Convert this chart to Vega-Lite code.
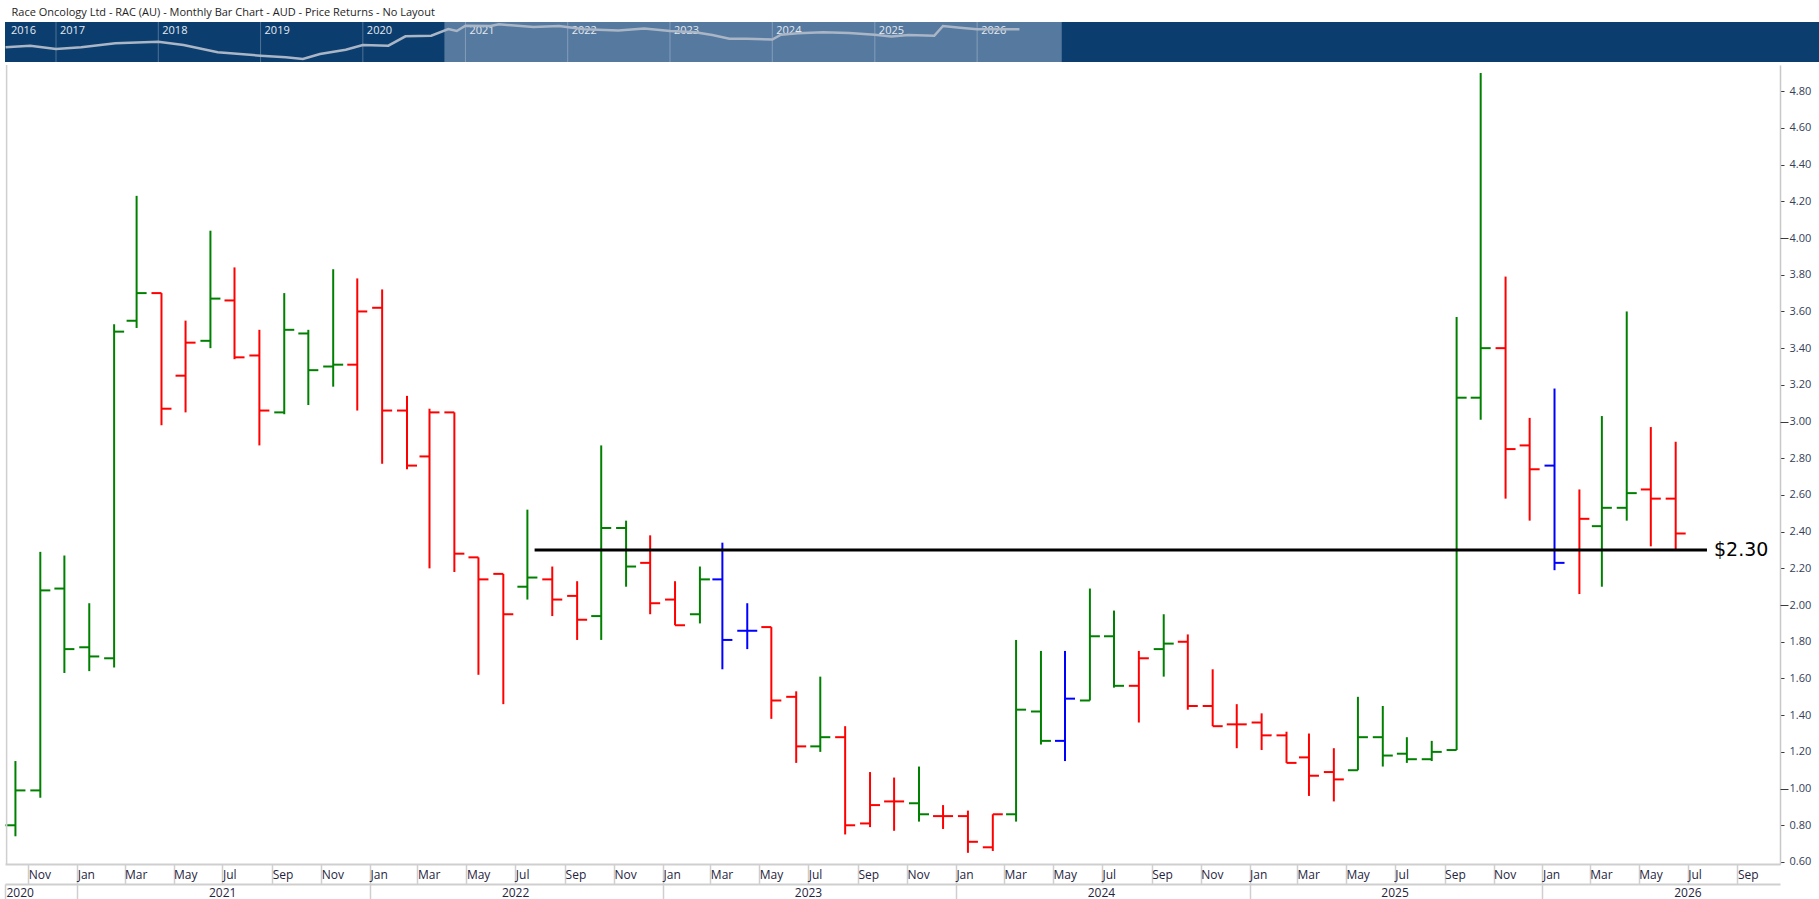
{
  "$schema": "https://vega.github.io/schema/vega-lite/v6.json",
  "padding": 0,
  "background": "#ffffff",
  "spacing": 0,
  "title": {
    "text": [" ", "Race Oncology Ltd - RAC (AU) - Monthly Bar Chart - AUD - Price Returns - No Layout"],
    "anchor": "start",
    "frame": "bounds",
    "font": "Open Sans",
    "fontSize": 11,
    "lineHeight": 7,
    "fontWeight": "normal",
    "color": "#1e1e1e",
    "offset": 1,
    "dx": 11
  },
  "config": {"view": {"stroke": null}, "font": "Open Sans"},
  "datasets": {
    "ohlc": [
      {"date": "2020-10-16", "open": 0.80, "high": 1.15, "low": 0.74, "close": 0.99, "signal": "up"},
      {"date": "2020-11-16", "open": 0.99, "high": 2.29, "low": 0.95, "close": 2.08, "signal": "up"},
      {"date": "2020-12-16", "open": 2.09, "high": 2.27, "low": 1.63, "close": 1.76, "signal": "up"},
      {"date": "2021-01-16", "open": 1.77, "high": 2.01, "low": 1.64, "close": 1.72, "signal": "up"},
      {"date": "2021-02-16", "open": 1.71, "high": 3.53, "low": 1.66, "close": 3.49, "signal": "up"},
      {"date": "2021-03-16", "open": 3.55, "high": 4.23, "low": 3.51, "close": 3.70, "signal": "up"},
      {"date": "2021-04-16", "open": 3.70, "high": 3.70, "low": 2.98, "close": 3.07, "signal": "down"},
      {"date": "2021-05-16", "open": 3.25, "high": 3.55, "low": 3.05, "close": 3.43, "signal": "down"},
      {"date": "2021-06-16", "open": 3.44, "high": 4.04, "low": 3.40, "close": 3.67, "signal": "up"},
      {"date": "2021-07-16", "open": 3.66, "high": 3.84, "low": 3.34, "close": 3.35, "signal": "down"},
      {"date": "2021-08-16", "open": 3.36, "high": 3.50, "low": 2.87, "close": 3.06, "signal": "down"},
      {"date": "2021-09-16", "open": 3.05, "high": 3.70, "low": 3.04, "close": 3.50, "signal": "up"},
      {"date": "2021-10-16", "open": 3.48, "high": 3.50, "low": 3.09, "close": 3.28, "signal": "up"},
      {"date": "2021-11-16", "open": 3.30, "high": 3.83, "low": 3.19, "close": 3.31, "signal": "up"},
      {"date": "2021-12-16", "open": 3.31, "high": 3.78, "low": 3.06, "close": 3.60, "signal": "down"},
      {"date": "2022-01-16", "open": 3.62, "high": 3.72, "low": 2.77, "close": 3.06, "signal": "down"},
      {"date": "2022-02-16", "open": 3.06, "high": 3.14, "low": 2.74, "close": 2.76, "signal": "down"},
      {"date": "2022-03-16", "open": 2.81, "high": 3.07, "low": 2.20, "close": 3.05, "signal": "down"},
      {"date": "2022-04-16", "open": 3.05, "high": 3.05, "low": 2.18, "close": 2.28, "signal": "down"},
      {"date": "2022-05-16", "open": 2.26, "high": 2.26, "low": 1.62, "close": 2.14, "signal": "down"},
      {"date": "2022-06-16", "open": 2.17, "high": 2.17, "low": 1.46, "close": 1.95, "signal": "down"},
      {"date": "2022-07-16", "open": 2.10, "high": 2.52, "low": 2.03, "close": 2.15, "signal": "up"},
      {"date": "2022-08-16", "open": 2.14, "high": 2.21, "low": 1.94, "close": 2.03, "signal": "down"},
      {"date": "2022-09-16", "open": 2.05, "high": 2.13, "low": 1.81, "close": 1.92, "signal": "down"},
      {"date": "2022-10-16", "open": 1.94, "high": 2.87, "low": 1.81, "close": 2.42, "signal": "up"},
      {"date": "2022-11-16", "open": 2.42, "high": 2.46, "low": 2.10, "close": 2.21, "signal": "up"},
      {"date": "2022-12-16", "open": 2.23, "high": 2.38, "low": 1.95, "close": 2.01, "signal": "down"},
      {"date": "2023-01-16", "open": 2.03, "high": 2.13, "low": 1.89, "close": 1.89, "signal": "down"},
      {"date": "2023-02-16", "open": 1.95, "high": 2.21, "low": 1.90, "close": 2.14, "signal": "up"},
      {"date": "2023-03-16", "open": 2.14, "high": 2.34, "low": 1.65, "close": 1.81, "signal": "neutral"},
      {"date": "2023-04-16", "open": 1.86, "high": 2.01, "low": 1.76, "close": 1.86, "signal": "neutral"},
      {"date": "2023-05-16", "open": 1.88, "high": 1.88, "low": 1.38, "close": 1.48, "signal": "down"},
      {"date": "2023-06-16", "open": 1.50, "high": 1.53, "low": 1.14, "close": 1.23, "signal": "down"},
      {"date": "2023-07-16", "open": 1.23, "high": 1.61, "low": 1.20, "close": 1.28, "signal": "up"},
      {"date": "2023-08-16", "open": 1.28, "high": 1.34, "low": 0.75, "close": 0.80, "signal": "down"},
      {"date": "2023-09-16", "open": 0.81, "high": 1.09, "low": 0.79, "close": 0.91, "signal": "down"},
      {"date": "2023-10-16", "open": 0.93, "high": 1.06, "low": 0.77, "close": 0.93, "signal": "down"},
      {"date": "2023-11-16", "open": 0.92, "high": 1.12, "low": 0.82, "close": 0.86, "signal": "up"},
      {"date": "2023-12-16", "open": 0.85, "high": 0.91, "low": 0.78, "close": 0.85, "signal": "down"},
      {"date": "2024-01-16", "open": 0.85, "high": 0.88, "low": 0.65, "close": 0.71, "signal": "down"},
      {"date": "2024-02-16", "open": 0.68, "high": 0.86, "low": 0.66, "close": 0.86, "signal": "down"},
      {"date": "2024-03-16", "open": 0.86, "high": 1.81, "low": 0.82, "close": 1.43, "signal": "up"},
      {"date": "2024-04-16", "open": 1.42, "high": 1.75, "low": 1.24, "close": 1.26, "signal": "up"},
      {"date": "2024-05-16", "open": 1.26, "high": 1.75, "low": 1.15, "close": 1.49, "signal": "neutral"},
      {"date": "2024-06-16", "open": 1.48, "high": 2.09, "low": 1.48, "close": 1.83, "signal": "up"},
      {"date": "2024-07-16", "open": 1.83, "high": 1.97, "low": 1.55, "close": 1.56, "signal": "up"},
      {"date": "2024-08-16", "open": 1.56, "high": 1.75, "low": 1.36, "close": 1.71, "signal": "down"},
      {"date": "2024-09-16", "open": 1.76, "high": 1.95, "low": 1.61, "close": 1.79, "signal": "up"},
      {"date": "2024-10-16", "open": 1.80, "high": 1.84, "low": 1.43, "close": 1.45, "signal": "down"},
      {"date": "2024-11-16", "open": 1.45, "high": 1.65, "low": 1.34, "close": 1.34, "signal": "down"},
      {"date": "2024-12-16", "open": 1.35, "high": 1.46, "low": 1.22, "close": 1.35, "signal": "down"},
      {"date": "2025-01-16", "open": 1.36, "high": 1.41, "low": 1.21, "close": 1.29, "signal": "down"},
      {"date": "2025-02-16", "open": 1.29, "high": 1.31, "low": 1.14, "close": 1.14, "signal": "down"},
      {"date": "2025-03-16", "open": 1.17, "high": 1.30, "low": 0.96, "close": 1.07, "signal": "down"},
      {"date": "2025-04-16", "open": 1.09, "high": 1.22, "low": 0.93, "close": 1.05, "signal": "down"},
      {"date": "2025-05-16", "open": 1.10, "high": 1.50, "low": 1.10, "close": 1.28, "signal": "up"},
      {"date": "2025-06-16", "open": 1.28, "high": 1.45, "low": 1.12, "close": 1.18, "signal": "up"},
      {"date": "2025-07-16", "open": 1.19, "high": 1.28, "low": 1.14, "close": 1.16, "signal": "up"},
      {"date": "2025-08-16", "open": 1.16, "high": 1.26, "low": 1.15, "close": 1.20, "signal": "up"},
      {"date": "2025-09-16", "open": 1.21, "high": 3.57, "low": 1.21, "close": 3.13, "signal": "up"},
      {"date": "2025-10-16", "open": 3.13, "high": 4.90, "low": 3.01, "close": 3.40, "signal": "up"},
      {"date": "2025-11-16", "open": 3.40, "high": 3.79, "low": 2.58, "close": 2.85, "signal": "down"},
      {"date": "2025-12-16", "open": 2.87, "high": 3.02, "low": 2.46, "close": 2.74, "signal": "down"},
      {"date": "2026-01-16", "open": 2.76, "high": 3.18, "low": 2.19, "close": 2.23, "signal": "neutral"},
      {"date": "2026-02-16", "open": 2.30, "high": 2.63, "low": 2.06, "close": 2.47, "signal": "down"},
      {"date": "2026-03-16", "open": 2.43, "high": 3.03, "low": 2.10, "close": 2.53, "signal": "up"},
      {"date": "2026-04-16", "open": 2.53, "high": 3.60, "low": 2.46, "close": 2.61, "signal": "up"},
      {"date": "2026-05-16", "open": 2.63, "high": 2.97, "low": 2.32, "close": 2.58, "signal": "down"},
      {"date": "2026-06-16", "open": 2.58, "high": 2.89, "low": 2.30, "close": 2.39, "signal": "down"}
    ],
    "nav": [
      {"date": "2016-07-05", "level": 14.7},
      {"date": "2016-10-01", "level": 16.3},
      {"date": "2017-01-01", "level": 13.0},
      {"date": "2017-04-01", "level": 14.7},
      {"date": "2017-08-01", "level": 18.7},
      {"date": "2018-01-01", "level": 20.3},
      {"date": "2018-04-01", "level": 17.0},
      {"date": "2018-08-01", "level": 9.7},
      {"date": "2019-01-01", "level": 6.3},
      {"date": "2019-04-01", "level": 4.7},
      {"date": "2019-06-01", "level": 3.0},
      {"date": "2019-08-01", "level": 8.0},
      {"date": "2019-11-01", "level": 12.3},
      {"date": "2020-01-01", "level": 17.0},
      {"date": "2020-04-01", "level": 16.3},
      {"date": "2020-06-01", "level": 25.7},
      {"date": "2020-09-01", "level": 26.3},
      {"date": "2020-11-01", "level": 33.0},
      {"date": "2020-12-01", "level": 31.0},
      {"date": "2021-01-01", "level": 36.3},
      {"date": "2021-04-01", "level": 36.0},
      {"date": "2021-05-01", "level": 37.7},
      {"date": "2021-09-01", "level": 34.9},
      {"date": "2021-12-01", "level": 36.0},
      {"date": "2022-03-01", "level": 32.7},
      {"date": "2022-07-01", "level": 31.6},
      {"date": "2022-10-01", "level": 33.5},
      {"date": "2023-01-01", "level": 30.9},
      {"date": "2023-04-01", "level": 29.8},
      {"date": "2023-06-01", "level": 26.9},
      {"date": "2023-08-01", "level": 23.3},
      {"date": "2023-10-01", "level": 23.3},
      {"date": "2024-01-01", "level": 22.5},
      {"date": "2024-02-01", "level": 27.3},
      {"date": "2024-04-01", "level": 28.7},
      {"date": "2024-07-01", "level": 29.8},
      {"date": "2024-10-01", "level": 29.1},
      {"date": "2025-01-01", "level": 27.3},
      {"date": "2025-03-01", "level": 25.5},
      {"date": "2025-05-01", "level": 26.9},
      {"date": "2025-08-01", "level": 26.2},
      {"date": "2025-09-01", "level": 36.0},
      {"date": "2025-11-01", "level": 34.2},
      {"date": "2026-01-01", "level": 32.7},
      {"date": "2026-06-01", "level": 32.7}
    ],
    "navYears": [
      {"date": "2016-07-10", "year": 2016},
      {"date": "2017-01-01", "year": 2017},
      {"date": "2018-01-01", "year": 2018},
      {"date": "2019-01-01", "year": 2019},
      {"date": "2020-01-01", "year": 2020},
      {"date": "2021-01-01", "year": 2021},
      {"date": "2022-01-01", "year": 2022},
      {"date": "2023-01-01", "year": 2023},
      {"date": "2024-01-01", "year": 2024},
      {"date": "2025-01-01", "year": 2025},
      {"date": "2026-01-01", "year": 2026}
    ],
    "level": [
      {"start": "2022-07-25", "end": "2026-07-25", "level": 2.30, "label": "$2.30"}
    ],
    "majorTicks": [
      {"level": 1}, {"level": 2}, {"level": 3}, {"level": 4}
    ]
  },
  "vconcat": [
    {
      "width": 1819,
      "height": 40,
      "view": {"fill": "#0b3d6e", "stroke": null},
      "layer": [
        {
          "data": {"values": [{"from": "2020-10-18", "to": "2026-10-30"}]},
          "mark": {"type": "rect", "color": "#56799f"},
          "encoding": {
            "x": {"field": "from", "type": "temporal", "scale": {"type": "utc", "domain": [{"year": 2016, "month": 7, "date": 3, "utc": true}, {"year": 2034, "month": 4, "date": 11, "utc": true}]}, "axis": null},
            "x2": {"field": "to"},
            "y": {"datum": 0, "type": "quantitative", "scale": {"domain": [0, 40], "nice": false, "zero": false}, "axis": null},
            "y2": {"datum": 40}
          }
        },
        {
          "data": {"name": "navYears"},
          "transform": [{"filter": "datum.year > 2016"}],
          "mark": {"type": "rule", "color": "#ffffff", "opacity": 0.28, "strokeWidth": 1},
          "encoding": {
            "x": {"field": "date", "type": "temporal", "scale": {"type": "utc", "domain": [{"year": 2016, "month": 7, "date": 3, "utc": true}, {"year": 2034, "month": 4, "date": 11, "utc": true}]}, "axis": null}
          }
        },
        {
          "data": {"name": "navYears"},
          "mark": {"type": "text", "align": "left", "baseline": "top", "dx": 4, "dy": 3, "fontSize": 11, "font": "Open Sans", "color": "#e4eaf1"},
          "encoding": {
            "x": {"field": "date", "type": "temporal", "scale": {"type": "utc", "domain": [{"year": 2016, "month": 7, "date": 3, "utc": true}, {"year": 2034, "month": 4, "date": 11, "utc": true}]}, "axis": null},
            "y": {"datum": 40, "type": "quantitative", "scale": {"domain": [0, 40], "nice": false, "zero": false}, "axis": null},
            "text": {"field": "year", "type": "nominal"}
          }
        },
        {
          "data": {"name": "nav"},
          "mark": {"type": "line", "color": "#aab6c6", "strokeWidth": 2.5},
          "encoding": {
            "x": {"field": "date", "type": "temporal", "scale": {"type": "utc", "domain": [{"year": 2016, "month": 7, "date": 3, "utc": true}, {"year": 2034, "month": 4, "date": 11, "utc": true}]}, "axis": null},
            "y": {"field": "level", "type": "quantitative", "scale": {"domain": [0, 40], "nice": false, "zero": false}, "axis": null}
          }
        }
      ]
    },
    {
      "width": 1775,
      "height": 799,
      "resolve": {"axis": {"x": "independent", "y": "independent"}},
      "layer": [
        {
          "data": {"name": "ohlc"},
          "mark": {"type": "rule", "strokeWidth": 2},
          "encoding": {
            "x": {
              "field": "date", "type": "temporal",
              "scale": {"type": "utc", "domain": [{"year": 2020, "month": 10, "date": 3, "utc": true}, {"year": 2026, "month": 10, "date": 24, "utc": true}]},
              "axis": {
                "orient": "bottom",
                "title": null,
                "values": [
                  {"year": 2020, "month": 11, "date": 1, "utc": true},
                  {"year": 2021, "month": 1, "date": 1, "utc": true}, {"year": 2021, "month": 3, "date": 1, "utc": true}, {"year": 2021, "month": 5, "date": 1, "utc": true}, {"year": 2021, "month": 7, "date": 1, "utc": true}, {"year": 2021, "month": 9, "date": 1, "utc": true}, {"year": 2021, "month": 11, "date": 1, "utc": true},
                  {"year": 2022, "month": 1, "date": 1, "utc": true}, {"year": 2022, "month": 3, "date": 1, "utc": true}, {"year": 2022, "month": 5, "date": 1, "utc": true}, {"year": 2022, "month": 7, "date": 1, "utc": true}, {"year": 2022, "month": 9, "date": 1, "utc": true}, {"year": 2022, "month": 11, "date": 1, "utc": true},
                  {"year": 2023, "month": 1, "date": 1, "utc": true}, {"year": 2023, "month": 3, "date": 1, "utc": true}, {"year": 2023, "month": 5, "date": 1, "utc": true}, {"year": 2023, "month": 7, "date": 1, "utc": true}, {"year": 2023, "month": 9, "date": 1, "utc": true}, {"year": 2023, "month": 11, "date": 1, "utc": true},
                  {"year": 2024, "month": 1, "date": 1, "utc": true}, {"year": 2024, "month": 3, "date": 1, "utc": true}, {"year": 2024, "month": 5, "date": 1, "utc": true}, {"year": 2024, "month": 7, "date": 1, "utc": true}, {"year": 2024, "month": 9, "date": 1, "utc": true}, {"year": 2024, "month": 11, "date": 1, "utc": true},
                  {"year": 2025, "month": 1, "date": 1, "utc": true}, {"year": 2025, "month": 3, "date": 1, "utc": true}, {"year": 2025, "month": 5, "date": 1, "utc": true}, {"year": 2025, "month": 7, "date": 1, "utc": true}, {"year": 2025, "month": 9, "date": 1, "utc": true}, {"year": 2025, "month": 11, "date": 1, "utc": true},
                  {"year": 2026, "month": 1, "date": 1, "utc": true}, {"year": 2026, "month": 3, "date": 1, "utc": true}, {"year": 2026, "month": 5, "date": 1, "utc": true}, {"year": 2026, "month": 7, "date": 1, "utc": true}, {"year": 2026, "month": 9, "date": 1, "utc": true}
                ],
                "labelExpr": "utcFormat(datum.value, '%b')",
                "grid": false,
                "domainColor": "#cfcfcf",
                "domainWidth": 2,
                "tickColor": "#cfcfcf",
                "tickWidth": 1.5,
                "tickSize": 20,
                "labelAlign": "left",
                "labelBaseline": "middle",
                "labelPadding": -10,
                "labelOffset": 0,
                "labelFont": "Open Sans",
                "labelFontSize": 12,
                "labelColor": "#1f2540",
                "labelOverlap": false,
                "labelBound": false,
                "labelFlush": false
              }
            },
            "y": {
              "field": "low", "type": "quantitative",
              "scale": {"domain": [0.589, 4.943], "nice": false, "zero": false},
              "axis": {
                "orient": "right",
                "title": null,
                "tickCount": 22,
                "format": ".2f",
                "grid": false,
                "domain": true,
                "ticks": true,
                "labels": true,
                "domainColor": "#c8c8c8",
                "domainWidth": 1.5,
                "tickColor": "#3a3a3a",
                "tickSize": 4,
                "labelPadding": 5,
                "labelFontSize": 11,
                "labelColor": "#34405a",
                "zindex": 1
              }
            },
            "y2": {"field": "high"},
            "color": {"field": "signal", "type": "nominal", "scale": {"domain": ["up", "down", "neutral"], "range": ["#008000", "#ff0000", "#0000ff"]}, "legend": null}
          }
        },
        {
          "data": {"name": "ohlc"},
          "mark": {"type": "tick", "orient": "horizontal", "size": 10, "thickness": 2, "xOffset": -5, "opacity": 1},
          "encoding": {
            "x": {"field": "date", "type": "temporal", "scale": {"type": "utc", "domain": [{"year": 2020, "month": 10, "date": 3, "utc": true}, {"year": 2026, "month": 10, "date": 24, "utc": true}]}, "axis": null},
            "y": {"field": "open", "type": "quantitative", "scale": {"domain": [0.589, 4.943], "nice": false, "zero": false}, "axis": null},
            "color": {"field": "signal", "type": "nominal", "scale": {"domain": ["up", "down", "neutral"], "range": ["#008000", "#ff0000", "#0000ff"]}, "legend": null}
          }
        },
        {
          "data": {"name": "ohlc"},
          "mark": {"type": "tick", "orient": "horizontal", "size": 10, "thickness": 2, "xOffset": 5, "opacity": 1},
          "encoding": {
            "x": {"field": "date", "type": "temporal", "scale": {"type": "utc", "domain": [{"year": 2020, "month": 10, "date": 3, "utc": true}, {"year": 2026, "month": 10, "date": 24, "utc": true}]}, "axis": null},
            "y": {"field": "close", "type": "quantitative", "scale": {"domain": [0.589, 4.943], "nice": false, "zero": false}, "axis": null},
            "color": {"field": "signal", "type": "nominal", "scale": {"domain": ["up", "down", "neutral"], "range": ["#008000", "#ff0000", "#0000ff"]}, "legend": null}
          }
        },
        {
          "data": {"name": "level"},
          "mark": {"type": "rule", "color": "#000000", "strokeWidth": 3},
          "encoding": {
            "x": {
              "field": "start", "type": "temporal",
              "scale": {"type": "utc", "domain": [{"year": 2020, "month": 10, "date": 3, "utc": true}, {"year": 2026, "month": 10, "date": 24, "utc": true}]},
              "axis": {
                "orient": "bottom",
                "offset": 20,
                "title": null,
                "values": [
                  {"year": 2020, "month": 10, "date": 3, "utc": true},
                  {"year": 2021, "month": 1, "date": 1, "utc": true},
                  {"year": 2022, "month": 1, "date": 1, "utc": true},
                  {"year": 2023, "month": 1, "date": 1, "utc": true},
                  {"year": 2024, "month": 1, "date": 1, "utc": true},
                  {"year": 2025, "month": 1, "date": 1, "utc": true},
                  {"year": 2026, "month": 1, "date": 1, "utc": true}
                ],
                "labelExpr": "utcFormat(datum.value, '%Y')",
                "grid": false,
                "domainColor": "#cfcfcf",
                "domainWidth": 2,
                "tickColor": "#cfcfcf",
                "tickWidth": 1.5,
                "tickSize": 16,
                "labelAlign": {"condition": {"test": "datum.value < 1609459200000", "value": "left"}, "value": "center"},
                "labelOffset": {"condition": {"test": "datum.value < 1609459200000", "value": 1}, "value": 145},
                "labelBaseline": "middle",
                "labelPadding": -8,
                "labelFont": "Open Sans",
                "labelFontSize": 12,
                "labelColor": "#1f2540",
                "labelOverlap": false,
                "labelBound": false,
                "labelFlush": false
              }
            },
            "x2": {"field": "end"},
            "y": {"field": "level", "type": "quantitative", "scale": {"domain": [0.589, 4.943], "nice": false, "zero": false}, "axis": null}
          }
        },
        {
          "data": {"name": "level"},
          "mark": {"type": "text", "align": "left", "baseline": "middle", "dx": 7, "fontSize": 19, "font": "DejaVu Sans", "color": "#000000"},
          "encoding": {
            "x": {"field": "end", "type": "temporal", "scale": {"type": "utc", "domain": [{"year": 2020, "month": 10, "date": 3, "utc": true}, {"year": 2026, "month": 10, "date": 24, "utc": true}]}, "axis": null},
            "y": {"field": "level", "type": "quantitative", "scale": {"domain": [0.589, 4.943], "nice": false, "zero": false}, "axis": null},
            "text": {"field": "label", "type": "nominal"}
          }
        },
        {
          "data": {"name": "majorTicks"},
          "mark": {"type": "point", "opacity": 0},
          "encoding": {
            "y": {
              "field": "level", "type": "quantitative",
              "scale": {"domain": [0.589, 4.943], "nice": false, "zero": false},
              "axis": {"orient": "right", "title": null, "values": [1, 2, 3, 4], "labels": false, "domain": false, "grid": false, "ticks": true, "tickSize": 8, "tickColor": "#3a3a3a", "zindex": 1}
            }
          }
        },
        {
          "data": {"values": [{"edge": "2020-10-05"}]},
          "mark": {"type": "rule", "color": "#cfcfcf", "strokeWidth": 1.5},
          "encoding": {
            "x": {
              "field": "edge", "type": "temporal",
              "scale": {"type": "utc", "domain": [{"year": 2020, "month": 10, "date": 3, "utc": true}, {"year": 2026, "month": 10, "date": 24, "utc": true}]},
              "axis": {"orient": "bottom", "offset": 36, "title": null, "ticks": false, "labels": false, "grid": false, "domainColor": "#cfcfcf", "domainWidth": 2}
            }
          }
        }
      ]
    }
  ]
}
